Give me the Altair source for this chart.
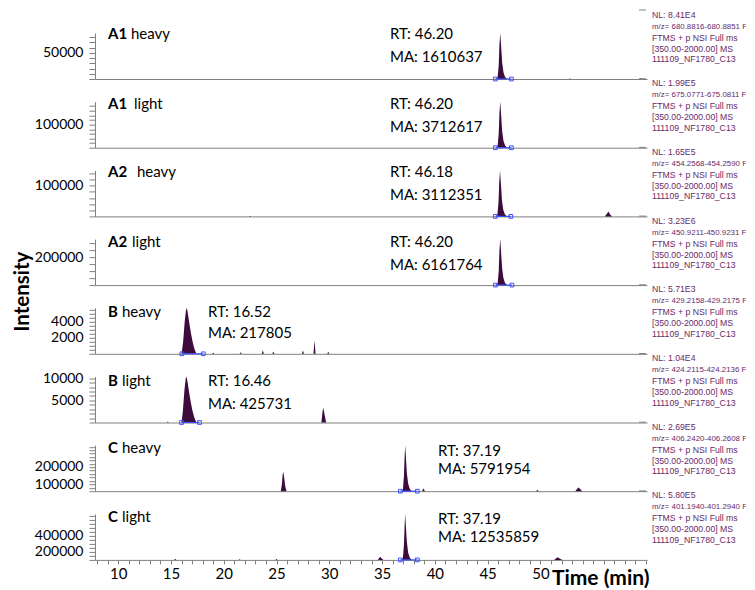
import altair as alt
import pandas as pd

# ---------------- data ----------------
panel_bold = ["A1", "A1", "A2", "A2", "B", "B", "C", "C"]
panel_rest = ["heavy", "light", "heavy", "light", "heavy", "light", "heavy", "light"]
rt_values = ["46.20", "46.20", "46.18", "46.20", "16.52", "16.46", "37.19", "37.19"]
ma_values = ["1610637", "3712617", "3112351", "6161764", "217805", "425731", "5791954", "12535859"]
nl_values = ["8.41E4", "1.99E5", "1.65E5", "3.23E6", "5.71E3", "1.04E4", "2.69E5", "5.80E5"]
mz_ranges = ["680.8816-680.8851", "675.0771-675.0811", "454.2568-454.2590", "450.9211-450.9231",
             "429.2158-429.2175", "424.2115-424.2136", "406.2420-406.2608", "401.1940-401.2940"]
scan_filter = "FTMS + p NSI Full ms"
scan_range = "[350.00-2000.00]  MS"
raw_file = "111109_NF1780_C13"

y_max = [88000, 199000, 150000, 330000, 5710, 10400, 269000, 580000]
y_step = [10000, 20000, 20000, 50000, 500, 1000, 20000, 50000]
y_labelled = [[50000], [100000], [100000], [200000], [2000, 4000], [5000, 10000],
              [100000, 200000], [200000, 400000]]

x_labelled = [10, 15, 20, 25, 30, 35, 40, 45, 50]
T_MIN, T_MAX = 7.8, 60.1

integ_start = [45.73, 45.73, 45.72, 45.73, 16.03, 16.0, 36.73, 36.73]
integ_end = [47.25, 47.25, 47.2, 47.3, 18.06, 17.7, 38.34, 38.34]

time_1 = [7.8, 45.80, 45.95, 46.05, 46.12, 46.20, 46.28, 46.38, 46.50, 46.65, 46.85,
          52.7, 52.8, 52.9, 59.4, 59.5, 59.6, 60.1]
inten_1 = [0, 0, 4000, 26000, 66000, 88000, 62000, 31000, 13000, 4000, 0,
           0, 900, 0, 0, 1500, 0, 0]

time_2 = [7.8, 45.80, 45.95, 46.05, 46.12, 46.20, 46.28, 46.38, 46.50, 46.65, 46.85, 60.1]
inten_2 = [0, 0, 9000, 60000, 150000, 199000, 140000, 70000, 30000, 9000, 0, 0]

time_3 = [7.8, 22.4, 22.5, 22.6, 45.78, 45.93, 46.03, 46.10, 46.18, 46.26, 46.36, 46.48, 46.63, 46.83,
          56.1, 56.3, 56.45, 56.6, 56.8, 60.1]
inten_3 = [0, 0, 2500, 0, 0, 7000, 45000, 112000, 150000, 105000, 52000, 22000, 7000, 0,
           0, 9000, 16000, 6000, 0, 0]

time_4 = [7.8, 45.80, 45.95, 46.05, 46.12, 46.20, 46.28, 46.38, 46.50, 46.65, 46.85, 60.1]
inten_4 = [0, 0, 15000, 100000, 250000, 330000, 230000, 115000, 50000, 15000, 0, 0]

time_5 = [7.8, 16.0, 16.15, 16.3, 16.42, 16.5, 16.6, 16.75, 16.9, 17.05, 17.2, 17.4,
          18.9, 19.0, 19.1, 21.5, 21.6, 21.7, 23.6, 23.7, 23.8, 24.6, 24.7, 24.8,
          27.4, 27.5, 27.6, 28.5, 28.6, 28.7, 29.8, 29.9, 30.0, 60.1]
inten_5 = [0, 0, 1500, 4000, 5400, 5710, 5000, 3700, 2500, 1500, 700, 0,
           0, 150, 0, 0, 200, 0, 0, 450, 0, 0, 300, 0,
           0, 400, 0, 0, 1650, 0, 0, 250, 0, 0]

time_6 = [7.8, 14.6, 14.7, 14.8, 16.0, 16.12, 16.28, 16.4, 16.47, 16.58, 16.72, 16.88, 17.03, 17.2, 17.4,
          29.25, 29.35, 29.42, 29.5, 29.6, 29.7, 60.1]
inten_6 = [0, 0, 250, 0, 0, 2500, 7500, 10000, 10400, 9000, 6800, 4500, 2700, 1200, 0,
           0, 2200, 3400, 2500, 1200, 0, 0]

time_7 = [7.8, 25.4, 25.5, 25.58, 25.64, 25.72, 25.82, 25.95,
          36.85, 36.98, 37.07, 37.14, 37.19, 37.26, 37.35, 37.47, 37.62, 37.8,
          38.8, 38.9, 39.0, 39.1, 49.6, 49.7, 49.85, 53.3, 53.45, 53.6, 53.75, 53.95, 60.1]
inten_7 = [0, 0, 38000, 97000, 114000, 82000, 30000, 0,
           0, 15000, 90000, 210000, 269000, 195000, 105000, 45000, 15000, 0,
           0, 17000, 6000, 0, 0, 9000, 0, 0, 11000, 22000, 15000, 0, 0]

time_8 = [7.8, 15.3, 15.4, 15.5, 21.4, 21.5, 21.6, 24.9, 25.0, 25.1,
          34.6, 34.75, 34.85, 35.0, 35.15,
          36.85, 36.98, 37.07, 37.14, 37.19, 37.26, 37.35, 37.47, 37.62, 37.8,
          51.3, 51.5, 51.65, 51.85, 52.1, 60.1]
inten_8 = [0, 0, 16000, 0, 0, 8000, 0, 0, 10000, 0,
           0, 29000, 37000, 12000, 0,
           0, 33000, 190000, 450000, 580000, 415000, 225000, 90000, 29000, 0,
           0, 21000, 33000, 16000, 0, 0]

traces_t = [time_1, time_2, time_3, time_4, time_5, time_6, time_7, time_8]
traces_i = [inten_1, inten_2, inten_3, inten_4, inten_5, inten_6, inten_7, inten_8]

# ---------------- styling / layout ----------------
FONT = "Lato"
PEAK = "#3d0c3d"
BLUE = "#3f52ff"
GREY = "#808080"
INFO = "#6a2a6a"
W, H = 552, 46

name_y = [1, 2, 2, 3, 4, 4, 3, 3]
rest_x = [36, 39, 42, 37, 27, 27, 27, 27]
rt_x = [295, 295, 295, 295, 113, 113, 343, 343]
rt_y = [1, 2, 2, 3, 4, 4, 6, 5]
ma_y = [24, 25, 25, 26, 25, 27, 24, 23]
y_label_offset = [0, 0, 0, 0, 0, 0, 10, 7]
info_y = [-18.5, -6.5, 4.5, 15.5, 26]
info_size = [8.7, 7.9, 8.7, 8.7, 8.7]
INFO_X = 557


def txt(text, x, y, size, weight="normal", color="black", font=FONT, align="left"):
    return alt.Chart(pd.DataFrame({"d": [0]})).mark_text(
        text=text, align=align, baseline="middle", font=font, fontSize=size,
        fontWeight=weight, color=color
    ).encode(x=alt.value(x), y=alt.value(y))


def panel(k):
    df = pd.DataFrame({"t": traces_t[k], "I": traces_i[k]})
    xscale = alt.Scale(domain=[T_MIN, T_MAX], nice=False, zero=False)
    yscale = alt.Scale(domain=[0, y_max[k]], nice=False)
    if k == 7:
        xaxis = alt.Axis(
            values=list(range(8, 61)),
            labelExpr="indexof(%s, datum.value) >= 0 ? format(datum.value, 'd') : ''" % x_labelled,
            labelOverlap=False, labelFlush=False, tickSize=4, tickColor=GREY,
            domainColor=GREY, labelFont=FONT, labelFontSize=15, labelColor="black",
            labelPadding=3, title="Time (min)", titleFont=FONT, titleFontSize=21,
            titleFontWeight="bold", titleColor="black", titleAnchor="end", titleAlign="right",
            titleX=554, titleY=19, titleBaseline="middle", grid=False)
    else:
        xaxis = alt.Axis(labels=False, ticks=False, title=None, domainColor=GREY, grid=False)
    yvals = list(range(0, y_max[k] + 1, y_step[k]))
    ykw = dict(
        values=yvals,
        labelExpr="indexof(%s, datum.value) >= 0 ? format(datum.value, 'd') : ''" % y_labelled[k],
        labelOverlap=False, labelFlush=False, tickSize=6, tickColor=GREY, domainColor=GREY,
        labelFont=FONT, labelFontSize=14, labelColor="black", labelPadding=6, grid=False,
        labelOffset=y_label_offset[k])
    if k == 3:
        ykw.update(title="Intensity", titleFont=FONT, titleFontSize=20.5, titleFontWeight="bold",
                   titleColor="black", titleAngle=270, titleX=-73, titleY=52,
                   titleAlign="center", titleBaseline="middle")
    else:
        ykw.update(title=None)
    bx = alt.X("t:Q", scale=xscale, axis=xaxis)
    by = alt.Y("I:Q", scale=yscale, axis=alt.Axis(**ykw))

    area = alt.Chart(df).mark_area(color=PEAK, interpolate="linear").encode(x=bx, y=by)
    idf = pd.DataFrame({"t": [integ_start[k], integ_end[k]], "I": [0, 0]})
    iline = alt.Chart(idf).mark_line(color=BLUE, strokeWidth=1.2).encode(x=bx, y=by)
    ipts = alt.Chart(idf).mark_point(shape="square", filled=False, size=14, color=BLUE,
                                     strokeWidth=1, opacity=1).encode(x=bx, y=by)
    corner = alt.Chart(pd.DataFrame({"d": [0]})).mark_rule(color=GREY, strokeWidth=1).encode(
        x=alt.value(W - 8), x2=alt.value(W - 1), y=alt.value(-23))

    layers = [area, iline, ipts, corner,
              txt(panel_bold[k], 13, name_y[k], 15, "bold"),
              txt(panel_rest[k], rest_x[k], name_y[k], 15),
              txt("RT: " + rt_values[k], rt_x[k], rt_y[k], 15),
              txt("MA: " + ma_values[k], rt_x[k], ma_y[k], 15)]
    info_lines = ["NL: " + nl_values[k], "m/z= " + mz_ranges[k] + " F:", scan_filter, scan_range, raw_file]
    for line, yy, sz in zip(info_lines, info_y, info_size):
        layers.append(txt(line, INFO_X, yy, sz, color=INFO, font="Liberation Sans"))
    return alt.layer(*layers).properties(width=W, height=H)


chart = alt.vconcat(*[panel(k) for k in range(8)], spacing=22.7, bounds="flush").properties(
    padding={"left": 4, "top": 1, "right": -4, "bottom": 2}
).configure_view(strokeWidth=0).configure_axis(grid=False)

chart.save("out.html", embed_options={"renderer": "svg", "actions": False})
